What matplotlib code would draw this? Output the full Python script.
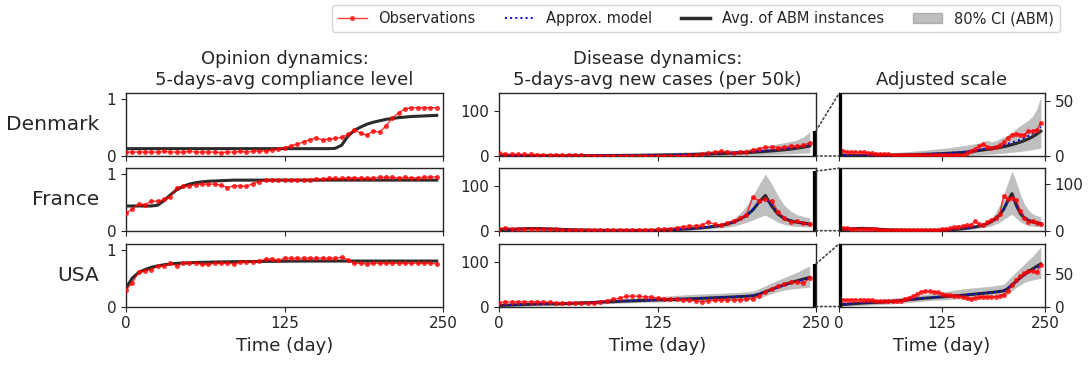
import numpy as np
import matplotlib
matplotlib.use("Agg")
import matplotlib.pyplot as plt
from matplotlib.patches import Patch, ConnectionPatch
from matplotlib.lines import Line2D

# ---------------- data ----------------
days = list(range(0, 250, 5))  # 50 time points
countries = ["Denmark", "France", "USA"]

# compliance level (5-days-avg)
dk_comp_obs = [0.07, 0.07, 0.07, 0.07, 0.07, 0.07, 0.08, 0.07, 0.07, 0.07,
               0.08, 0.07, 0.07, 0.07, 0.07, 0.06, 0.07, 0.07, 0.08, 0.07,
               0.08, 0.09, 0.09, 0.10, 0.12, 0.15, 0.18, 0.21, 0.25, 0.29,
               0.32, 0.28, 0.30, 0.31, 0.33, 0.38, 0.46, 0.40, 0.37, 0.44,
               0.42, 0.53, 0.67, 0.76, 0.83, 0.85, 0.85, 0.85, 0.85, 0.85]
dk_comp_abm = [0.13, 0.13, 0.13, 0.13, 0.13, 0.13, 0.13, 0.13, 0.13, 0.13,
               0.13, 0.13, 0.13, 0.13, 0.13, 0.13, 0.13, 0.13, 0.13, 0.13,
               0.13, 0.13, 0.13, 0.13, 0.13, 0.13, 0.13, 0.13, 0.13, 0.13,
               0.13, 0.13, 0.13, 0.135, 0.19, 0.35, 0.45, 0.51, 0.56, 0.595,
               0.62, 0.645, 0.66, 0.675, 0.685, 0.695, 0.70, 0.705, 0.71, 0.715]

fr_comp_obs = [0.31, 0.38, 0.47, 0.46, 0.52, 0.52, 0.55, 0.60, 0.76, 0.78,
               0.79, 0.81, 0.82, 0.82, 0.82, 0.80, 0.76, 0.79, 0.79, 0.78,
               0.83, 0.86, 0.89, 0.89, 0.90, 0.89, 0.89, 0.89, 0.90, 0.90,
               0.91, 0.91, 0.92, 0.92, 0.92, 0.93, 0.93, 0.93, 0.92, 0.93,
               0.94, 0.94, 0.94, 0.93, 0.94, 0.93, 0.93, 0.94, 0.94, 0.95]
fr_comp_abm = [0.435, 0.435, 0.435, 0.435, 0.435, 0.45, 0.53, 0.63, 0.72, 0.78,
               0.82, 0.845, 0.86, 0.87, 0.875, 0.88, 0.885, 0.89, 0.89, 0.89,
               0.89, 0.89, 0.89, 0.89, 0.89, 0.89, 0.89, 0.89, 0.89, 0.89,
               0.89, 0.89, 0.89, 0.89, 0.89, 0.89, 0.89, 0.89, 0.89, 0.89,
               0.89, 0.89, 0.89, 0.89, 0.89, 0.89, 0.89, 0.89, 0.89, 0.89]

us_comp_obs = [0.29, 0.42, 0.61, 0.63, 0.65, 0.71, 0.71, 0.76, 0.72, 0.77,
               0.77, 0.77, 0.74, 0.74, 0.76, 0.76, 0.76, 0.75, 0.78, 0.79,
               0.79, 0.80, 0.83, 0.84, 0.81, 0.85, 0.85, 0.85, 0.85, 0.85,
               0.85, 0.85, 0.85, 0.85, 0.87, 0.82, 0.76, 0.76, 0.75, 0.76,
               0.76, 0.76, 0.76, 0.76, 0.76, 0.76, 0.76, 0.76, 0.76, 0.75]
us_comp_abm = [0.33, 0.50, 0.60, 0.65, 0.69, 0.715, 0.735, 0.75, 0.76, 0.765,
               0.77, 0.775, 0.778, 0.78, 0.783, 0.785, 0.787, 0.789, 0.79, 0.791,
               0.792, 0.793, 0.794, 0.795, 0.796, 0.797, 0.798, 0.799, 0.80, 0.80,
               0.80, 0.80, 0.80, 0.80, 0.80, 0.80, 0.80, 0.80, 0.80, 0.80,
               0.80, 0.80, 0.80, 0.80, 0.80, 0.80, 0.80, 0.80, 0.80, 0.80]

# new cases (5-days-avg, per 50k)
dk_cases_obs = [7.5, 4.5, 3.8, 3.6, 3.6, 3.5, 3.4, 3.0, 2.6, 2.2,
                1.9, 1.6, 1.4, 1.2, 1.1, 1.0, 0.9, 0.9, 0.8, 0.8,
                0.8, 0.8, 0.8, 0.8, 0.8, 0.8, 0.8, 0.8, 0.9, 1.0,
                1.2, 2.5, 4.8, 6.8, 9.0, 10.7, 8.3, 7.7, 8.3, 9.8,
                12.8, 16.7, 19.3, 20.2, 19.0, 19.3, 22.6, 22.6, 23.8, 30.0]
dk_cases_abm = [0.5, 0.5, 0.5, 0.5, 0.5, 0.5, 0.6, 0.6, 0.6, 0.7,
                0.7, 0.8, 0.8, 0.9, 0.9, 1.0, 1.1, 1.2, 1.3, 1.4,
                1.5, 1.6, 1.7, 1.9, 2.0, 2.2, 2.4, 2.6, 2.8, 3.0,
                3.2, 3.6, 4.0, 4.5, 5.0, 5.5, 6.0, 6.6, 7.2, 7.8,
                8.4, 9.3, 10.3, 11.4, 12.6, 14.0, 15.6, 17.5, 19.8, 22.5]
dk_cases_approx = [0.8, 0.8, 0.8, 0.8, 0.8, 0.8, 0.8, 0.8, 0.8, 0.8,
                   0.9, 0.9, 0.9, 1.0, 1.0, 1.1, 1.2, 1.3, 1.4, 1.5,
                   1.6, 1.7, 1.9, 2.0, 2.2, 2.4, 2.6, 2.8, 3.1, 3.4,
                   3.7, 4.1, 4.6, 5.1, 5.7, 6.3, 7.0, 7.7, 8.5, 9.3,
                   10.2, 11.2, 12.3, 13.5, 14.9, 16.4, 18.2, 20.4, 23.0, 26.5]
dk_cases_lo = [0.1, 0.1, 0.1, 0.1, 0.1, 0.1, 0.1, 0.1, 0.1, 0.1,
               0.1, 0.1, 0.1, 0.1, 0.1, 0.1, 0.1, 0.1, 0.1, 0.1,
               0.1, 0.1, 0.1, 0.1, 0.1, 0.1, 0.1, 0.1, 0.1, 0.1,
               0.3, 0.5, 0.7, 0.9, 1.1, 1.3, 1.5, 1.7, 2.0, 2.3,
               2.6, 3.0, 3.4, 3.8, 4.2, 4.7, 5.2, 5.8, 6.5, 7.2]
dk_cases_hi = [1.5, 1.6, 1.7, 1.8, 1.9, 2.0, 2.1, 2.2, 2.3, 2.4,
               2.5, 2.7, 2.9, 3.1, 3.3, 3.5, 3.8, 4.1, 4.4, 4.7,
               5.0, 5.3, 5.7, 6.1, 6.5, 6.9, 7.3, 7.8, 8.3, 8.8,
               9.3, 9.9, 10.5, 11.2, 11.9, 12.8, 14.3, 12.8, 13.8, 15.5,
               17.3, 19.3, 21.5, 24.7, 27.5, 30.0, 32.7, 36.0, 42.5, 54.0]

fr_cases_obs = [5.0, 6.5, 5.0, 3.5, 3.5, 3.5, 3.5, 3.0, 3.0, 3.0,
                2.5, 2.5, 2.5, 2.0, 2.0, 2.0, 2.0, 2.0, 2.0, 2.0,
                2.0, 2.0, 2.0, 2.5, 2.5, 3.0, 4.0, 5.0, 7.0, 9.0,
                10.5, 11.5, 12.0, 20.0, 14.0, 12.5, 18.0, 22.0, 28.0, 35.0,
                75.0, 67.0, 70.0, 66.0, 43.0, 28.0, 19.0, 21.0, 17.0, 15.0]
fr_cases_abm = [2.0, 2.5, 3.0, 4.0, 4.5, 5.0, 5.0, 4.5, 4.0, 3.5,
                3.0, 2.5, 2.0, 1.8, 1.5, 1.3, 1.2, 1.1, 1.0, 1.0,
                1.0, 1.0, 1.0, 1.0, 1.1, 1.2, 1.5, 2.0, 2.6, 3.4,
                4.3, 5.4, 6.6, 8.0, 9.8, 12.0, 15.0, 19.5, 26.0, 34.0,
                46.0, 64.0, 79.0, 55.0, 37.0, 27.0, 22.0, 19.0, 17.0, 15.0]
fr_cases_approx = [2.5, 2.8, 3.2, 3.6, 3.9, 4.0, 3.9, 3.6, 3.3, 3.0,
                   2.6, 2.3, 2.0, 1.8, 1.6, 1.4, 1.3, 1.2, 1.1, 1.1,
                   1.1, 1.1, 1.1, 1.2, 1.3, 1.5, 1.8, 2.3, 2.9, 3.7,
                   4.7, 5.8, 7.1, 8.6, 10.4, 12.6, 15.6, 19.8, 25.5, 34.0,
                   47.0, 63.0, 72.0, 58.0, 41.0, 29.0, 23.0, 19.5, 17.0, 15.0]
fr_cases_lo = [0.5, 0.8, 1.0, 1.2, 1.4, 1.5, 1.5, 1.4, 1.2, 1.0,
               0.8, 0.7, 0.6, 0.5, 0.5, 0.4, 0.4, 0.4, 0.4, 0.4,
               0.4, 0.4, 0.4, 0.4, 0.5, 0.6, 0.8, 1.0, 1.3, 1.6,
               2.0, 2.6, 3.2, 4.0, 5.0, 6.3, 8.0, 10.5, 14.0, 18.5,
               24.0, 30.0, 35.0, 27.0, 19.0, 14.0, 11.0, 9.5, 9.0, 8.0]
fr_cases_hi = [4.0, 4.8, 5.5, 6.3, 7.0, 7.2, 7.0, 6.5, 6.0, 5.2,
               4.5, 4.0, 3.5, 3.1, 2.8, 2.6, 2.5, 2.4, 2.3, 2.2,
               2.2, 2.2, 2.3, 2.4, 2.5, 2.7, 3.0, 3.8, 5.0, 6.0,
               7.0, 8.3, 10.0, 12.0, 14.5, 17.0, 21.0, 27.0, 39.0, 55.0,
               78.0, 103.0, 127.0, 105.0, 78.0, 57.0, 44.0, 36.0, 32.0, 29.0]

us_cases_obs = [9.0, 10.5, 10.5, 10.5, 10.5, 10.5, 10.5, 10.0, 10.0, 8.5,
                8.0, 8.0, 8.0, 8.0, 8.0, 8.5, 11.0, 13.5, 16.0, 19.0,
                22.5, 23.5, 23.0, 22.0, 21.5, 19.0, 18.0, 17.0, 16.0, 15.5,
                14.5, 13.0, 10.8, 13.0, 14.0, 14.5, 14.5, 14.5, 15.0, 16.0,
                18.0, 24.0, 33.0, 40.0, 46.0, 51.0, 54.0, 55.0, 52.0, 64.0]
us_cases_abm = [2.5, 3.0, 3.5, 4.0, 4.5, 5.0, 5.4, 5.8, 6.0, 6.2,
                6.5, 7.0, 7.5, 8.0, 8.5, 9.2, 10.0, 10.5, 11.0, 11.7,
                12.3, 12.8, 13.3, 13.8, 14.3, 14.7, 15.2, 15.7, 16.2, 16.7,
                17.2, 17.8, 18.4, 19.0, 19.6, 20.2, 20.8, 21.5, 22.2, 23.0,
                24.0, 27.5, 33.0, 38.5, 44.0, 49.0, 53.5, 57.5, 61.5, 65.0]
us_cases_approx = [3.0, 3.5, 4.0, 4.5, 5.0, 5.4, 5.8, 6.1, 6.4, 6.7,
                   7.0, 7.4, 7.9, 8.4, 9.0, 9.6, 10.2, 10.8, 11.4, 12.0,
                   12.5, 13.0, 13.5, 14.0, 14.5, 15.0, 15.5, 16.0, 16.5, 17.0,
                   17.5, 18.1, 18.7, 19.3, 19.9, 20.5, 21.2, 21.9, 22.6, 23.4,
                   24.5, 28.0, 33.0, 38.0, 43.0, 47.5, 52.0, 56.0, 59.5, 62.5]
us_cases_lo = [0.5, 0.7, 0.9, 1.1, 1.3, 1.5, 1.8, 2.1, 2.4, 2.7,
               3.0, 3.4, 3.8, 4.2, 4.6, 5.0, 5.6, 6.2, 6.8, 7.4,
               8.0, 8.5, 9.0, 9.5, 9.8, 10.0, 10.4, 10.8, 11.2, 11.6,
               12.0, 12.3, 12.6, 12.9, 13.2, 13.5, 13.9, 14.3, 14.7, 15.1,
               15.5, 19.0, 24.0, 29.0, 33.0, 37.0, 39.0, 40.5, 42.0, 43.0]
us_cases_hi = [5.0, 5.6, 6.2, 6.8, 7.4, 8.0, 8.6, 9.2, 9.8, 10.4,
               11.0, 11.6, 12.2, 12.8, 13.4, 14.0, 14.8, 15.6, 16.4, 17.2,
               18.0, 18.8, 19.6, 20.4, 21.2, 22.0, 23.0, 24.0, 25.0, 26.0,
               27.0, 27.6, 28.2, 28.8, 29.4, 30.0, 30.6, 31.2, 32.0, 33.0,
               34.5, 40.0, 46.5, 53.0, 59.0, 65.0, 71.0, 77.0, 84.0, 91.0]

comp_obs = [dk_comp_obs, fr_comp_obs, us_comp_obs]
comp_abm = [dk_comp_abm, fr_comp_abm, us_comp_abm]
cases_obs = [dk_cases_obs, fr_cases_obs, us_cases_obs]
cases_abm = [dk_cases_abm, fr_cases_abm, us_cases_abm]
cases_approx = [dk_cases_approx, fr_cases_approx, us_cases_approx]
cases_lo = [dk_cases_lo, fr_cases_lo, us_cases_lo]
cases_hi = [dk_cases_hi, fr_cases_hi, us_cases_hi]

x_ticks = [0, 125, 250]
comp_yticks = [0, 1]
cases_yticks = [0, 100]
adj_yticks = [[0, 50], [0, 100], [0, 50]]

# ---------------- style ----------------
TXT = "#262626"
plt.rcParams.update({
    "font.family": "DejaVu Sans",
    "text.color": TXT,
    "axes.labelcolor": TXT,
    "xtick.color": TXT,
    "ytick.color": TXT,
    "xtick.labelsize": 11,
    "ytick.labelsize": 11,
    "axes.edgecolor": "#262626",
    "axes.linewidth": 1.0,
})

RED = "red"
OBS_KW = dict(color=RED, alpha=0.78, lw=1.0, marker="o", ms=3.6, mec="none", zorder=5)
ABM_KW = dict(color="#2b2b2b", lw=2.2, zorder=3)
APPROX_KW = dict(color="blue", lw=1.4, ls=":", zorder=4)
CI_KW = dict(color="gray", alpha=0.5, lw=0, zorder=1)

fig = plt.figure(figsize=(10.91, 3.68), dpi=100)

col_left = [0.1155, 0.4574, 0.769]
col_w = [0.2906, 0.2906, 0.1888]
row_bottom = [0.576, 0.373, 0.167]
row_h = 0.170

for r, name in enumerate(countries):
    axL = fig.add_axes([col_left[0], row_bottom[r], col_w[0], row_h])
    axM = fig.add_axes([col_left[1], row_bottom[r], col_w[1], row_h])
    axR = fig.add_axes([col_left[2], row_bottom[r], col_w[2], row_h])

    # opinion dynamics
    axL.plot(days, comp_abm[r], **ABM_KW)
    axL.plot(days, comp_obs[r], **OBS_KW)
    axL.set_xlim(0, 250)
    axL.set_ylim(0, 1.1)
    axL.set_yticks(comp_yticks)
    axL.text(-0.085, 0.5, name, transform=axL.transAxes, ha="right",
             va="center", fontsize=14.5)

    # disease dynamics
    top = max(cases_hi[r]) * 1.05
    for ax in (axM, axR):
        ax.fill_between(days, cases_lo[r], cases_hi[r], **CI_KW)
        ax.plot(days, cases_abm[r], **ABM_KW)
        ax.plot(days, cases_approx[r], **APPROX_KW)
        ax.plot(days, cases_obs[r], **OBS_KW)
        ax.set_xlim(0, 250)
    axM.set_ylim(0, 140)
    axM.set_yticks(cases_yticks)
    axR.set_ylim(0, top)
    axR.set_yticks(adj_yticks[r])
    axR.yaxis.tick_right()

    # zoom indicator bars
    axM.plot([250, 250], [0, top], color="black", lw=4.5, solid_capstyle="butt", zorder=6)
    axR.plot([0, 0], [0, top], color="black", lw=4.5, solid_capstyle="butt", zorder=6)
    for yM, yR in ((top, top), (0, 0)):
        con = ConnectionPatch(xyA=(250, yM), coordsA=axM.transData,
                              xyB=(0, yR), coordsB=axR.transData,
                              ls=":", lw=1.2, color="#444444")
        fig.add_artist(con)

    for ax in (axL, axM, axR):
        ax.set_xticks(x_ticks)
        if r < 2:
            ax.set_xticklabels([])
        else:
            ax.set_xlabel("Time (day)", fontsize=13)

    if r == 0:
        axL.set_title("Opinion dynamics:\n5-days-avg compliance level", fontsize=13)
        axM.set_title("Disease dynamics:\n5-days-avg new cases (per 50k)", fontsize=13)
        axR.set_title("Adjusted scale", fontsize=13)

handles = [
    Line2D([], [], color=RED, alpha=0.78, lw=1.0, marker="o", ms=3.6, mec="none"),
    Line2D([], [], color="blue", lw=1.4, ls=":"),
    Line2D([], [], color="#2b2b2b", lw=2.5),
    Patch(facecolor="gray", alpha=0.5, edgecolor="gray"),
]
labels = ["Observations", "Approx. model", "Avg. of ABM instances", "80% CI (ABM)"]
fig.legend(handles, labels, loc="upper right", bbox_to_anchor=(0.978, 1.005),
           ncol=4, fontsize=10.5, frameon=True)

fig.savefig("out.png", dpi=100)
